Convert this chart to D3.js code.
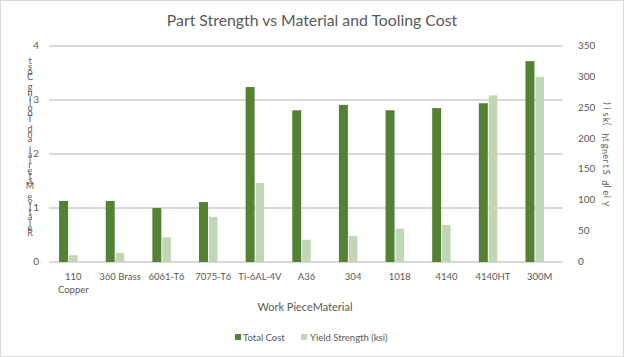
<!DOCTYPE html>
<html><head><meta charset="utf-8">
<script src="https://cdn.jsdelivr.net/npm/d3@7"></script>
<style>body{margin:0;background:#fff}svg{display:block}text{font-family:Lato,"Open Sans",sans-serif}</style>
</head><body>
<script>
const categories = ["110\nCopper","360 Brass","6061-T6","7075-T6","Ti-6AL-4V","A36","304","1018","4140","4140HT","300M"];
const totalCost = [1.13,1.13,1.0,1.11,3.24,2.81,2.91,2.81,2.85,2.94,3.72];
const yieldStrength = [11,15,40,73,128,36,42,54,60,270,300];
const leftTicks = [0,1,2,3,4];
const rightTicks = [0,50,100,150,200,250,300,350];
const seriesNames = ["Total Cost","Yield Strength (ksi)"];
const colors = ["#548235","#C0D6B4"];
const title = "Part Strength vs Material and Tooling Cost";
const xTitle = "Work PieceMaterial";
const yTitle = "Relative Material and Tooling Cost";
const y2Title = "Yield Strength (ksi)";

const W=624,H=357;
const svg=d3.select("body").append("svg").attr("width",W).attr("height",H);
svg.append("rect").attr("x",0.5).attr("y",0.5).attr("width",W-1).attr("height",H-1).attr("fill","#fff").attr("stroke","#d9d9d9");

const x0=d3.scaleBand().domain(categories).range([50,563]).paddingInner(0.39).paddingOuter(0.195);
const x1=d3.scaleBand().domain([0,1,2]).range([0,x0.bandwidth()]);
const y=d3.scaleLinear().domain([0,4]).range([262,46]);
const y2=d3.scaleLinear().domain([0,350]).range([262,46]);

// gridlines
svg.append("g").selectAll("line").data(leftTicks).join("line")
  .attr("x1",49).attr("x2",563).attr("y1",d=>y(d)).attr("y2",d=>y(d))
  .attr("stroke","#d9d9d9").attr("stroke-width",2);

// bars
const g=svg.append("g").selectAll("g").data(categories).join("g").attr("transform",d=>`translate(${x0(d)},0)`);
g.append("rect").attr("x",x1(0)).attr("width",x1.bandwidth()-0.5)
  .attr("y",(d,i)=>y(totalCost[i])).attr("height",(d,i)=>y(0)-y(totalCost[i])).attr("fill",colors[0]);
g.append("rect").attr("x",x1(1)+0.5).attr("width",x1.bandwidth()-1)
  .attr("y",(d,i)=>y2(yieldStrength[i])).attr("height",(d,i)=>y2(0)-y2(yieldStrength[i])).attr("fill",colors[1]);

// axis labels
svg.append("g").selectAll("text").data(leftTicks).join("text")
  .attr("x",39).attr("y",d=>y(d)+3).attr("text-anchor","end").attr("font-size",10).attr("fill","#595959").text(d=>d);
svg.append("g").selectAll("text").data(rightTicks).join("text")
  .attr("x",578).attr("y",d=>y2(d)+3).attr("text-anchor","start").attr("font-size",10).attr("fill","#595959").text(d=>d);

// x labels
const xl=svg.append("g").selectAll("text").data(categories).join("text")
  .attr("x",d=>x0(d)+x0.bandwidth()/2).attr("y",280).attr("text-anchor","middle").attr("font-size",9.5).attr("fill","#595959");
xl.selectAll("tspan").data(d=>d.split("\n")).join("tspan")
  .attr("x",function(){return d3.select(this.parentNode).attr("x")}).attr("dy",(d,i)=>i?13:0).text(d=>d);

// title
svg.append("text").attr("x",312).attr("y",26).attr("text-anchor","middle").attr("font-size",15.8).attr("fill","#595959").text(title);
svg.append("text").attr("x",305).attr("y",311).attr("text-anchor","middle").attr("font-size",11).attr("fill","#595959").text(xTitle);

// left stacked title (bottom-to-top, upright glyphs) as one text element
const lt=svg.append("text").attr("font-size",9).attr("fill","#595959").attr("text-anchor","middle");
lt.selectAll("tspan").data(yTitle.split("")).join("tspan")
  .attr("x",30).attr("y",(d,i)=>236-i*5.2).text(d=>d===" "?"\u00a0":d);
// right stacked title (rotated glyphs) as one text element
const rt=svg.append("text").attr("font-size",9).attr("fill","#595959").attr("text-anchor","middle");
rt.selectAll("tspan").data(y2Title.split("")).join("tspan")
  .attr("x",605).attr("y",(d,i)=>201-i*5.2).attr("rotate",90).text(d=>d===" "?"\u00a0":d);

// legend
const leg=[{x:235,tx:243},{x:301,tx:310}];
seriesNames.forEach((s,i)=>{
  svg.append("rect").attr("x",leg[i].x).attr("y",334).attr("width",6).attr("height",6).attr("fill",colors[i]);
  svg.append("text").attr("x",leg[i].tx).attr("y",341).attr("font-size",9.5).attr("fill","#595959").text(s);
});
</script>
</body></html>
